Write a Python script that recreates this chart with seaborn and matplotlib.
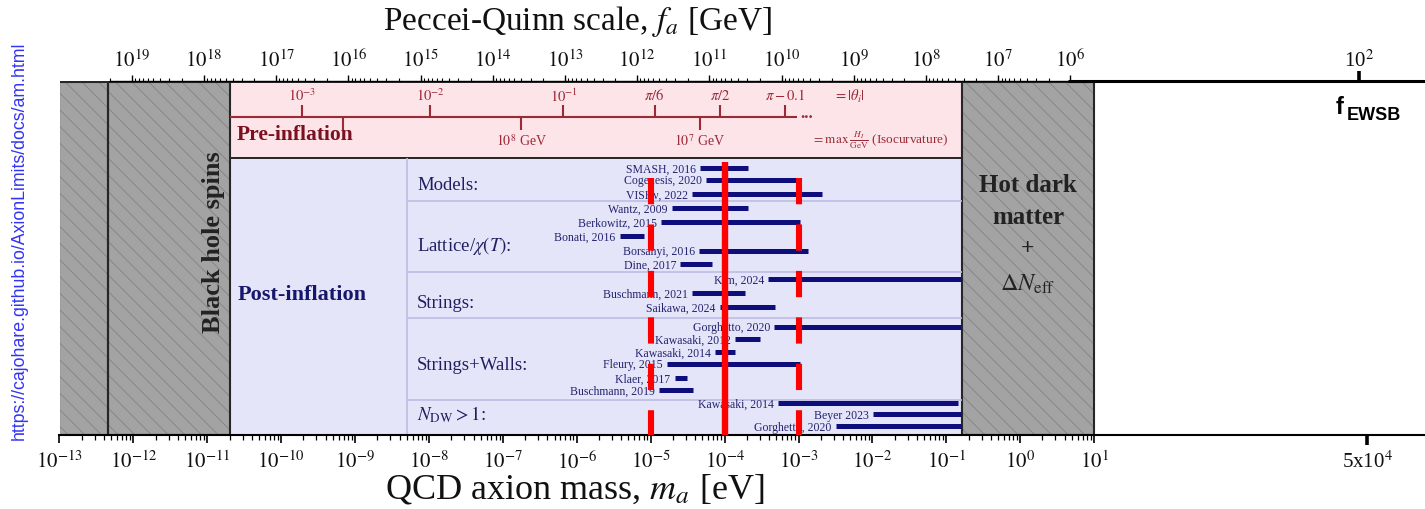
import matplotlib
matplotlib.use("Agg")
import matplotlib.pyplot as plt
from matplotlib.patches import Rectangle
from matplotlib.ticker import FixedLocator, FixedFormatter, NullFormatter
import numpy as np
import pandas as pd
import seaborn as sns

# ---------------- data ----------------
study_names = [
    "SMASH, 2016", "Cogenesis, 2020", "VISHν, 2022",
    "Wantz, 2009", "Berkowitz, 2015", "Bonati, 2016", "Borsanyi, 2016", "Dine, 2017",
    "Kim, 2024", "Buschmann, 2021", "Saikawa, 2024",
    "Gorghetto, 2020", "Kawasaki, 2012", "Kawasaki, 2014", "Fleury, 2015",
    "Klaer, 2017", "Buschmann, 2019",
    "Kawasaki, 2014", "Beyer 2023", "Gorghetto, 2020",
]
study_category = (["Models"] * 3 + ["Lattice"] * 5 + ["Strings"] * 3
                  + ["Strings+Walls"] * 6 + ["NDW>1"] * 3)
mass_min_eV = [4.6e-5, 5.6e-5, 3.6e-5,
               1.93e-5, 1.37e-5, 3.8e-6, 4.5e-5, 2.5e-5,
               3.9e-4, 3.6e-5, 8.6e-5,
               4.7e-4, 1.38e-4, 7.4e-5, 1.65e-5, 2.1e-5, 1.29e-5,
               5.3e-4, 1.03e-2, 3.2e-3]
mass_max_eV = [2.07e-4, 1.02e-3, 2.1e-3,
               2.07e-4, 1.06e-3, 8.0e-6, 1.35e-3, 6.7e-5,
               0.16, 1.9e-4, 4.8e-4,
               0.16, 3.0e-4, 1.38e-4, 1.06e-3, 3.1e-5, 3.7e-5,
               0.143, 0.16, 0.16]

category_titles = ["Models:", r"Lattice/$\chi(T)$:", "Strings:",
                   "Strings+Walls:", r"$N_{\rm DW} > 1$:"]

# excluded mass ranges (eV): grey hatched bands
excluded_lo = [1e-13, 4.47e-13, 0.163]
excluded_hi = [4.47e-13, 2.03e-11, 10.0]
# allowed window holding the pre-/post-inflation scenarios
window_lo, window_hi = 2.03e-11, 0.163
label_column_edge = 5.04e-9

# benchmark masses marked in red
benchmark_masses = [1e-5, 1e-4, 1e-3]
benchmark_solid = [False, True, False]

# pre-inflation scale: initial misalignment angle and inflationary Hubble scale
theta_labels = [r"$10^{-3}$", r"$10^{-2}$", r"$10^{-1}$",
                r"$\pi/6$", r"$\pi/2$", r"$\pi-0.1$"]
theta_masses = [1.89e-10, 1.03e-8, 6.6e-7, 1.13e-5, 8.6e-5, 6.6e-4]
theta_scale_end = 9.6e-4
hubble_labels = ["", r"$10^{8}$ GeV", r"$10^{7}$ GeV"]
hubble_masses = [6.8e-10, 1.77e-7, 4.6e-5]

# axis ticks
mass_exponents = list(range(-13, 2))
mass_ticks = [10.0 ** k for k in mass_exponents] + [5e4]
mass_tick_labels = [rf"$10^{{{k}}}$" for k in mass_exponents] + [r"5x10$^4$"]
fa_exponents = list(range(19, 5, -1))
fa_ticks = [10.0 ** k for k in fa_exponents] + [1e2]
fa_tick_labels = [rf"$10^{{{k}}}$" for k in fa_exponents] + [r"10$^2$"]

# ---------------- style ----------------
sns.set_theme(style="ticks")
plt.rcParams.update({
    "font.family": ["Liberation Serif", "DejaVu Serif"],
    "mathtext.fontset": "stix",
    "hatch.linewidth": 0.7,
    "axes.edgecolor": "black",
    "xtick.color": "black",
    "xtick.labelcolor": "#111111",
})

NAVY = "#0d0d7c"
NAVY_TXT = "#23236e"
DRED = "#9a2a36"
GREY = "#a3a3a3"
EDGE = "#262626"

W, H = 1425, 509
PX_L, PX_R, PX_T, PX_B = 59.5, 1425, 81, 435

fig = plt.figure(figsize=(W / 100, H / 100), dpi=100)
ax = fig.add_axes([PX_L / W, 1 - PX_B / H, (PX_R - PX_L) / W, (PX_B - PX_T) / H])
ax.set_xscale("log")
ax.set_xlim(1e-13, 3e5)
ax.set_ylim(PX_B, PX_T)
ax.set_yticks([])
for sp in ["top", "left", "right"]:
    ax.spines[sp].set_visible(False)
ax.spines["bottom"].set_linewidth(1.5)

# grey excluded regions: fill, hatch, then outline on top
box_top = PX_T + 1
for lo, hi in zip(excluded_lo, excluded_hi):
    ax.add_patch(Rectangle((lo, box_top), hi - lo, PX_B - box_top,
                           facecolor=GREY, edgecolor="none", lw=0, zorder=1))
    ax.add_patch(Rectangle((lo, box_top), hi - lo, PX_B - box_top,
                           facecolor="none", edgecolor="#878787", lw=0,
                           hatch="\\\\", zorder=1.05))
    ax.add_patch(Rectangle((lo, box_top), hi - lo, PX_B - box_top,
                           facecolor="none", edgecolor=EDGE, lw=1.5, zorder=1.2))

# pre-inflation (pink) and post-inflation (lavender) panels
split_y = 158
ax.add_patch(Rectangle((window_lo, box_top), window_hi - window_lo, split_y - box_top,
                       facecolor="#fce4e9", edgecolor=EDGE, lw=1.4, zorder=1))
ax.add_patch(Rectangle((window_lo, split_y), window_hi - window_lo, PX_B - split_y,
                       facecolor="#e5e5fa", edgecolor=EDGE, lw=1.4, zorder=1))

# category separators inside the post-inflation panel
sep_color = "#bdbde4"
ax.vlines(label_column_edge, split_y, PX_B, color=sep_color, lw=1.2, zorder=1.5)
ax.hlines([201, 272, 318, 400], label_column_edge, window_hi, color=sep_color,
          lw=1.2, zorder=1.5)

# bars for each study
row_y = [168, 180, 194, 208, 222, 236, 251, 264, 279, 293, 307,
         327, 339, 352, 364, 378, 390, 403, 414, 426]
studies = pd.DataFrame({"name": study_names, "category": study_category,
                        "lo": mass_min_eV, "hi": mass_max_eV, "y": row_y})
ax.hlines(studies["y"], studies["lo"], studies["hi"], color=NAVY, lw=3.6,
          zorder=3, capstyle="butt")
for _, r in studies.iterrows():
    ax.annotate(r["name"], xy=(r["lo"], r["y"]), xytext=(-4, 0),
                textcoords="offset pixels", ha="right", va="center_baseline",
                fontsize=8.5, color=NAVY_TXT, zorder=4)

# red benchmark lines
for m, solid in zip(benchmark_masses, benchmark_solid):
    if solid:
        ax.vlines(m, 162, PX_B, color="#ff0000", lw=4.6, zorder=6)
    else:
        ax.vlines(m, 178, PX_B, color="#ff0000", lw=4.4, zorder=6,
                  linestyles=(0, (4.3, 3.3)))

# pre-inflation scale line
scale_y = 117
ax.hlines(scale_y, window_lo, theta_scale_end, color=DRED, lw=1.5, zorder=2)
ax.vlines(theta_masses, 105, scale_y, color=DRED, lw=1.5, zorder=2)
ax.vlines(hubble_masses, scale_y, 130, color=DRED, lw=1.5, zorder=2)
for m, lab in zip(theta_masses, theta_labels):
    ax.text(m, 96, lab, ha="center", va="center", fontsize=10.5, color=DRED)
for m, lab in zip(hubble_masses, hubble_labels):
    ax.text(m, 141, lab, ha="center", va="center", fontsize=10, color=DRED)

# ---------------- axes ticks ----------------
ax.xaxis.set_major_locator(FixedLocator(mass_ticks))
ax.xaxis.set_major_formatter(FixedFormatter(mass_tick_labels))
mass_minor = [m * 10.0 ** k for k in range(-13, 1) for m in range(2, 10)]
ax.xaxis.set_minor_locator(FixedLocator(mass_minor))
ax.xaxis.set_minor_formatter(NullFormatter())
ax.tick_params(axis="x", which="major", length=6, width=1.2, labelsize=15, pad=6)
ax.tick_params(axis="x", which="minor", length=3.5, width=0.9)
big = ax.xaxis.get_major_ticks()[-1]
big.tick1line.set_markeredgewidth(2.6)
big.tick1line.set_markersize(7)

axt = ax.twiny()
axt.set_xscale("log")
axt.set_xlim(1e20, 12.3)
for sp in ["bottom", "left", "right"]:
    axt.spines[sp].set_visible(False)
axt.spines["top"].set_linewidth(1.0)
axt.spines["top"].set_bounds(2e19, 12.3)
axt.xaxis.set_major_locator(FixedLocator(fa_ticks))
axt.xaxis.set_major_formatter(FixedFormatter(fa_tick_labels))
fa_minor = [m * 10.0 ** k for k in range(6, 19) for m in range(2, 10)] + [2e19]
axt.xaxis.set_minor_locator(FixedLocator(fa_minor))
axt.xaxis.set_minor_formatter(NullFormatter())
axt.tick_params(axis="x", which="major", length=4, width=1.0, labelsize=15, pad=2.5)
axt.tick_params(axis="x", which="minor", length=2.5, width=0.8)
bigt = axt.xaxis.get_major_ticks()[-1]
bigt.tick2line.set_markeredgewidth(2.6)
bigt.tick2line.set_markersize(7)
# heavier top rule across the electroweak extension
ax.plot([0.7386, 1.0], [1.0, 1.0], transform=ax.transAxes, color="black",
        lw=2.2, clip_on=False, zorder=7, solid_capstyle="butt")

# ---------------- text layer (pixel coordinates) ----------------
lay = fig.add_axes([0, 0, 1, 1], zorder=10)
lay.set_xlim(0, W)
lay.set_ylim(H, 0)
lay.axis("off")

lay.text(577, 21, r"Peccei-Quinn scale, $f_a$ [GeV]", ha="center", va="center",
         fontsize=24, color="#111111")
lay.text(575, 489, r"QCD axion mass, $m_a$ [eV]", ha="center", va="center",
         fontsize=26, color="#111111")

lay.text(19, 241, "https://cajohare.github.io/AxionLimits/docs/am.html",
         rotation=90, ha="center", va="center", fontsize=12.8,
         family="Liberation Sans", color="#3333f5")

lay.text(1336, 114, "f", ha="left", va="baseline", fontsize=17,
         family="Liberation Sans", weight="bold", color="black")
lay.text(1347, 120, "EWSB", ha="left", va="baseline", fontsize=13,
         family="Liberation Sans", weight="bold", color="black")

lay.text(214, 242, "Black hole spins", rotation=90, ha="center", va="center",
         fontsize=19, weight="bold", color="#222222")

lay.text(237, 135, "Pre-inflation", ha="left", va="center", fontsize=15.5,
         weight="bold", color="#7a1020")
lay.text(238, 295, "Post-inflation", ha="left", va="center", fontsize=16,
         weight="bold", color="#16166a")

for t, yy in zip(category_titles, [185, 246, 303, 366, 415]):
    lay.text(417, yy, t, ha="left", va="center", fontsize=13.5, color="#1f1f60")

lay.text(833, 96, r"$=|\theta_i|$", ha="left", va="center", fontsize=10.5, color=DRED)
lay.text(800, 114, "...", ha="left", va="center", fontsize=12, color=DRED,
         weight="bold")
lay.text(812, 140, r"$=\max\,\frac{H_I}{\rm GeV}$ (Isocurvature)", ha="left",
         va="center", fontsize=9.5, color=DRED)

hdm_x = 1028
lay.text(hdm_x, 185, "Hot dark", ha="center", va="center", fontsize=18,
         weight="bold", color="#222222")
lay.text(hdm_x, 218, "matter", ha="center", va="center", fontsize=18,
         weight="bold", color="#222222")
lay.text(hdm_x, 249, "+", ha="center", va="center", fontsize=17,
         weight="bold", color="#222222")
lay.text(hdm_x, 284, r"$\Delta N_{\rm eff}$", ha="center", va="center",
         fontsize=17.5, color="#222222")

fig.savefig("out.png", dpi=100)
